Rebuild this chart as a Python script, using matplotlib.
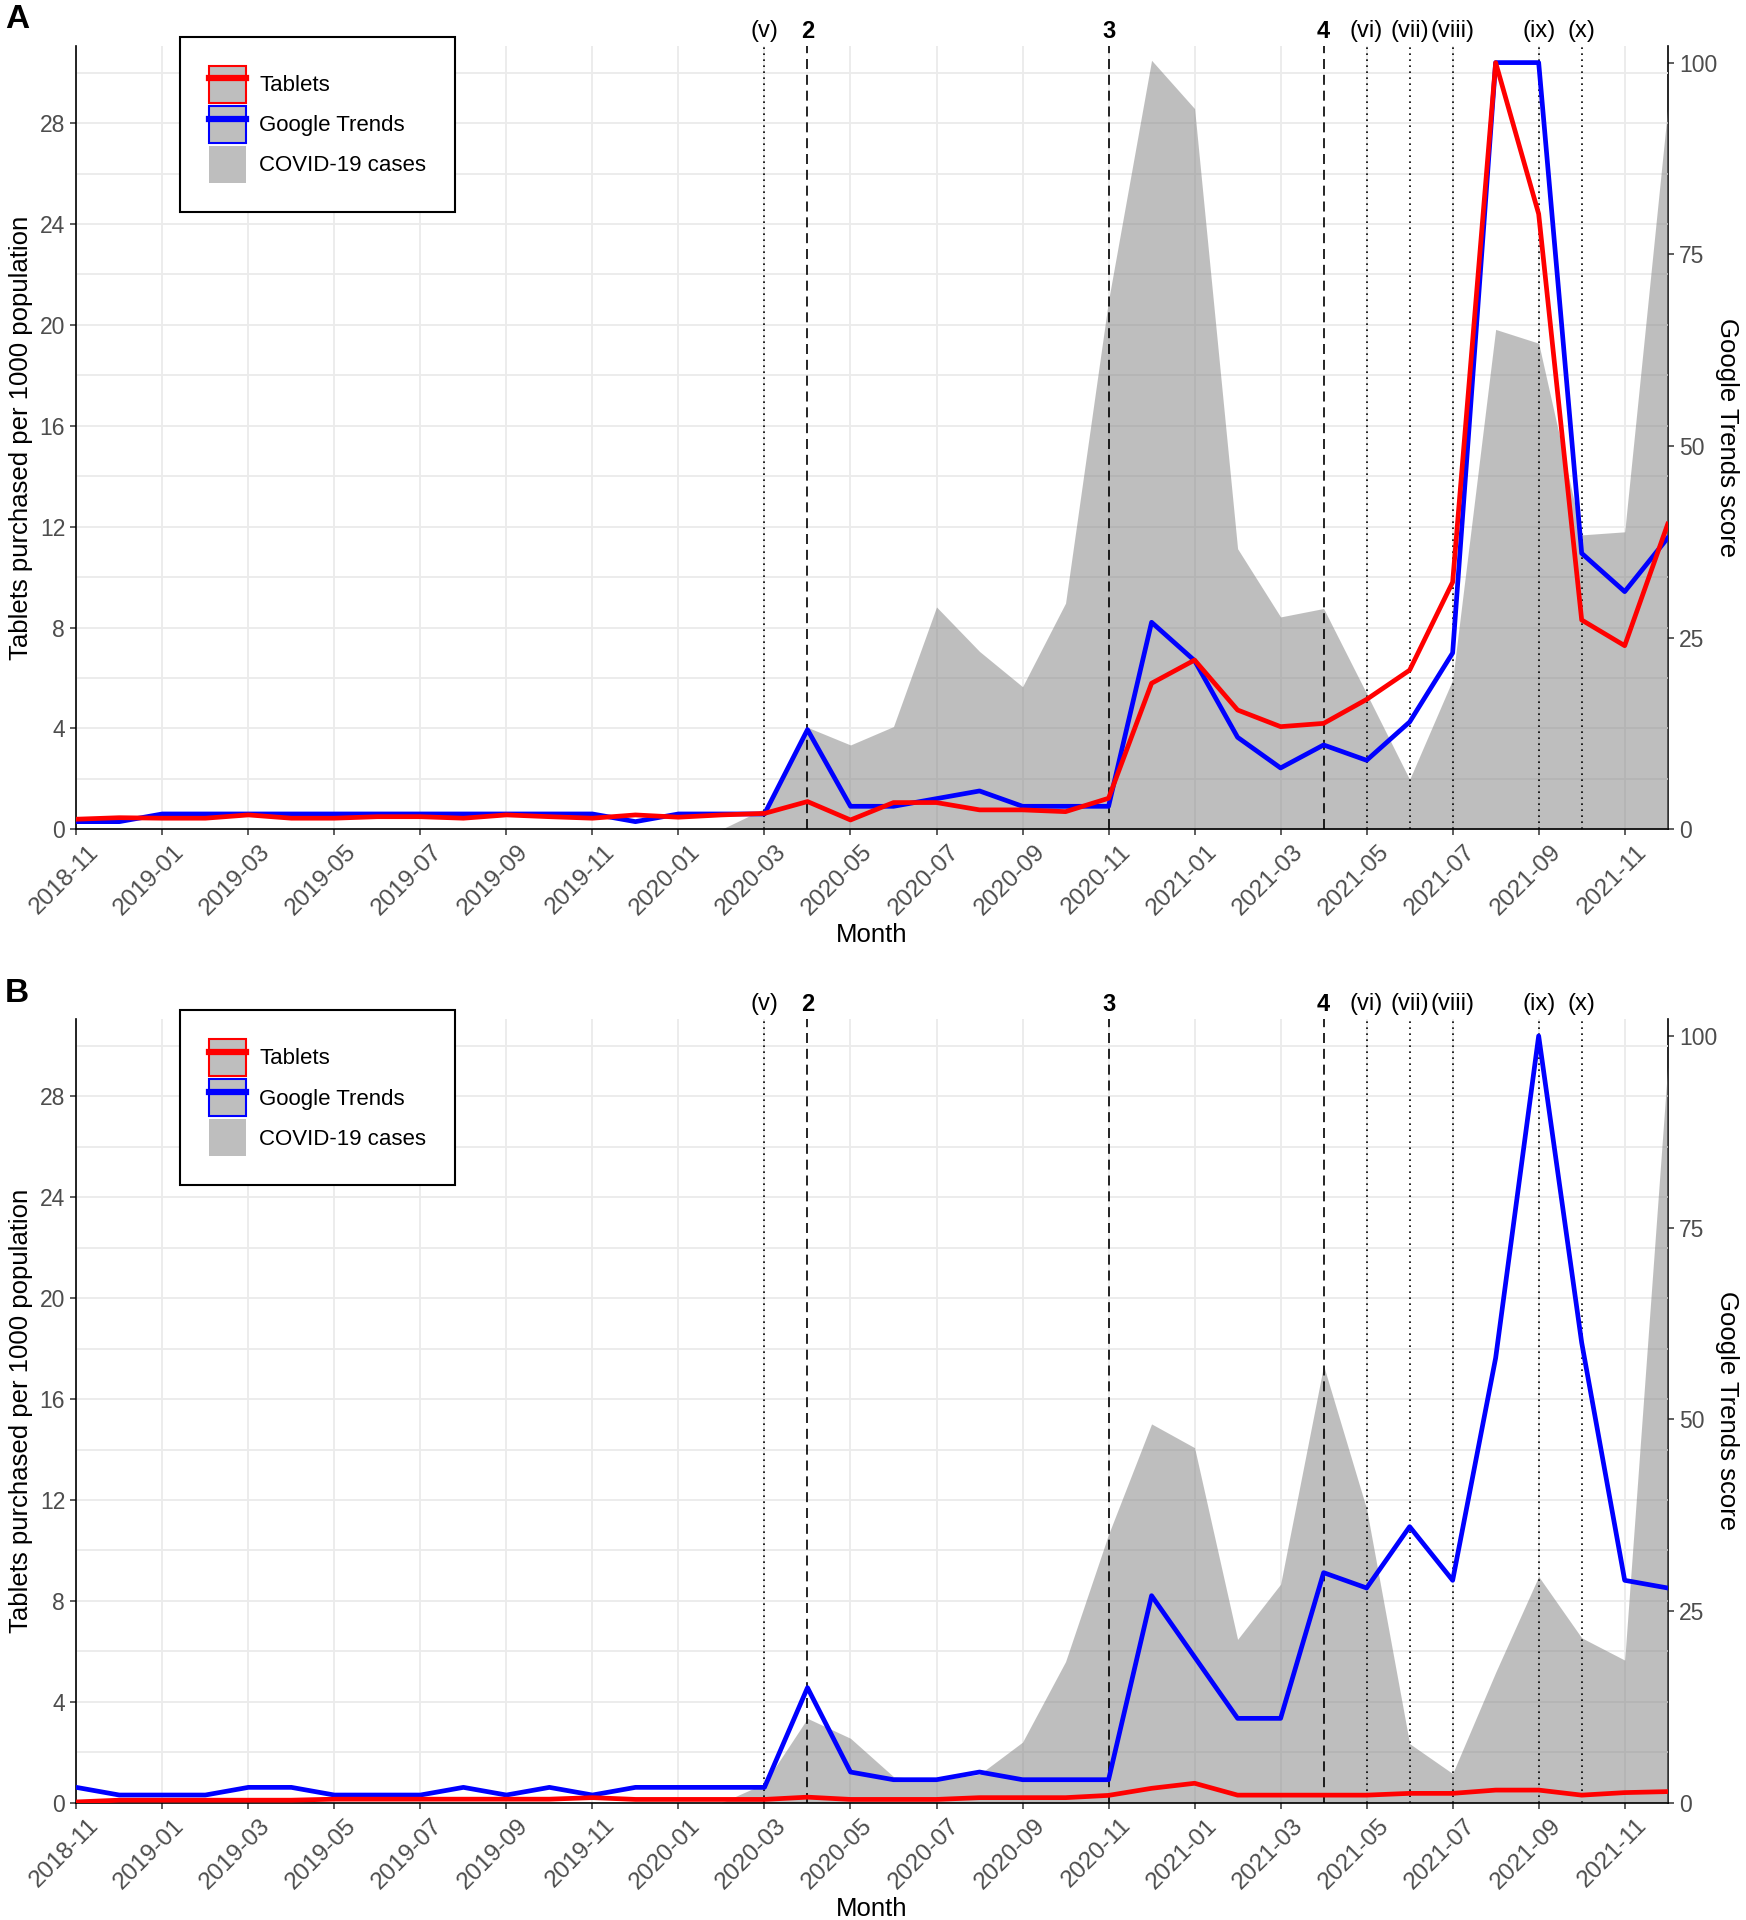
import matplotlib
matplotlib.use('Agg')
import matplotlib.pyplot as plt
import numpy as np
from matplotlib.patches import Patch
from matplotlib.lines import Line2D
from matplotlib.legend_handler import HandlerTuple
from matplotlib.transforms import ScaledTranslation

plt.rcParams['font.family'] = ['Liberation Sans', 'DejaVu Sans']

# ---------------- data ----------------
months = ['2018-11', '2018-12', '2019-01', '2019-02', '2019-03', '2019-04', '2019-05',
          '2019-06', '2019-07', '2019-08', '2019-09', '2019-10', '2019-11', '2019-12',
          '2020-01', '2020-02', '2020-03', '2020-04', '2020-05', '2020-06', '2020-07',
          '2020-08', '2020-09', '2020-10', '2020-11', '2020-12', '2021-01', '2021-02',
          '2021-03', '2021-04', '2021-05', '2021-06', '2021-07', '2021-08', '2021-09',
          '2021-10', '2021-11', '2021-12']

# Panel A
tablets_A = [0.40, 0.46, 0.44, 0.44, 0.57, 0.44, 0.44, 0.50, 0.50, 0.44, 0.57, 0.50, 0.44,
             0.57, 0.48, 0.57, 0.63, 1.10, 0.37, 1.06, 1.06, 0.77, 0.77, 0.70, 1.23, 5.79,
             6.71, 4.73, 4.07, 4.20, 5.15, 6.31, 9.80, 30.40, 24.40, 8.30, 7.28, 12.10]
google_A = [1, 1, 2, 2, 2, 2, 2, 2, 2, 2, 2, 2, 2, 1, 2, 2, 2, 13, 3, 3, 4, 5, 3, 3, 3,
            27, 22, 12, 8, 11, 9, 14, 23, 100, 100, 36, 31, 38]
covid_A = [0, 0, 0, 0, 0, 0, 0, 0, 0, 0, 0, 0, 0, 0, 0, 0, 2.7, 13.3, 11.0, 13.4, 29.0,
           23.2, 18.6, 29.5, 69.0, 100.3, 94.0, 36.6, 27.7, 28.8, 17.7, 6.5, 19.5, 65.2,
           63.4, 38.4, 38.8, 94.0]

# Panel B
tablets_B = [0.03, 0.10, 0.10, 0.10, 0.10, 0.10, 0.14, 0.14, 0.14, 0.14, 0.14, 0.14, 0.20,
             0.13, 0.13, 0.13, 0.13, 0.22, 0.13, 0.13, 0.13, 0.20, 0.20, 0.20, 0.29, 0.57,
             0.77, 0.30, 0.30, 0.30, 0.30, 0.37, 0.37, 0.50, 0.50, 0.30, 0.40, 0.44]
google_B = [2, 1, 1, 1, 2, 2, 1, 1, 1, 2, 1, 2, 1, 2, 2, 2, 2, 15, 4, 3, 3, 4, 3, 3, 3,
            27, 19, 11, 11, 30, 28, 36, 29, 58, 100, 60, 29, 28]
covid_B = [0, 0, 0, 0, 0, 0, 0, 0, 0, 0, 0, 0, 0, 0, 0, 0, 2.5, 11.0, 8.4, 3.4, 2.9,
           3.7, 7.9, 18.4, 35.0, 49.4, 46.3, 21.3, 28.5, 57.0, 38.3, 7.7, 3.8, 17.0,
           29.5, 21.5, 18.6, 96.0]

# Events (month, label, style)
event_months = ['2020-03', '2020-04', '2020-11', '2021-04', '2021-05', '2021-06',
                '2021-07', '2021-09', '2021-10']
event_labels = ['(v)', '2', '3', '4', '(vi)', '(vii)', '(viii)', '(ix)', '(x)']
event_dashed = [False, True, True, True, False, False, False, False, False]

GT_SCALE = 30.4 / 100.0   # left-axis units per Google Trends point
Y_TOP = 31.07

# ---------------- layout ----------------
W, H = 1746, 1920
fig = plt.figure(figsize=(W / 100, H / 100), dpi=100)

GRID = '#ebebeb'
GRAY_TXT = '#4d4d4d'


def fx(px):
    return px / W


def fy(py):
    return 1 - py / H


def draw_panel(ax_rect, tablets, google, covid, letter, top_px, bottom_px):
    ax = fig.add_axes(ax_rect)
    x = np.arange(len(months))
    tab = np.array(tablets)
    gt = np.array(google) * GT_SCALE
    cv = np.array(covid) * GT_SCALE

    ax.fill_between(x, 0, cv, color='#7f7f7f', alpha=0.5, lw=0, zorder=1)
    for m, lab, dashed in zip(event_months, event_labels, event_dashed):
        xi = months.index(m)
        ax.axvline(xi, color='black', lw=1.2,
                   ls=(0, (6, 3.5)) if dashed else (0, (1, 2.6)), zorder=2)
        ax.annotate(lab, xy=(xi, 1), xycoords=('data', 'axes fraction'),
                    xytext=(0, 10.5), textcoords='offset points', ha='center',
                    va='center', fontsize=17,
                    fontweight='bold' if dashed else 'normal', color='black')
    ax.plot(x, gt, color='#0000ff', lw=3.4, zorder=3, solid_joinstyle='round')
    ax.plot(x, tab, color='#ff0000', lw=3.4, zorder=4, solid_joinstyle='round')

    ax.set_xlim(0, len(months) - 1)
    ax.set_ylim(0, Y_TOP)
    ax.set_xticks(x[::2])
    ax.set_yticks(np.arange(0, 29, 4))
    ax.set_yticks(np.arange(2, 31, 4), minor=True)
    ax.tick_params(axis='y', which='major', labelsize=16.5, labelcolor=GRAY_TXT,
                   length=4, width=1.1, color='#333333', pad=4)
    ax.tick_params(axis='x', which='major', length=4, width=1.1, color='#333333', pad=4.5)
    ax.tick_params(which='minor', length=0)
    ax.set_xticklabels(months[::2], rotation=45, ha='right', va='top',
                       rotation_mode='anchor', fontsize=17.5, color=GRAY_TXT)
    shift = ScaledTranslation(11 / 100, 0, fig.dpi_scale_trans)
    for lbl in ax.get_xticklabels():
        lbl.set_transform(lbl.get_transform() + shift)
    ax.set_axisbelow(True)
    ax.grid(True, axis='y', which='both', color=GRID, lw=1.3)
    ax.grid(True, axis='x', which='major', color=GRID, lw=1.3)
    for s in ['top', 'right']:
        ax.spines[s].set_visible(False)
    for s in ['left', 'bottom']:
        ax.spines[s].set_linewidth(1.2)
        ax.spines[s].set_color('black')

    sec = ax.secondary_yaxis('right', functions=(lambda y: y / GT_SCALE,
                                                  lambda y: y * GT_SCALE))
    sec.set_yticks([0, 25, 50, 75, 100])
    sec.tick_params(labelsize=16.5, labelcolor=GRAY_TXT, length=4, width=1.1,
                    color='#333333', pad=4)
    sec.spines['right'].set_linewidth(1.2)

    mid = (top_px + bottom_px) / 2
    fig.text(fx(21), fy(mid), 'Tablets purchased per 1000 population', rotation=90,
             ha='center', va='center', fontsize=18.5)
    fig.text(fx(1727), fy(mid), 'Google Trends score', rotation=-90,
             ha='center', va='center', fontsize=18.5)
    fig.text(fx(872), fy(bottom_px + 106), 'Month', ha='center', va='center',
             fontsize=18.5)
    fig.text(fx(17), fy(top_px - 26), letter, ha='center', va='center',
             fontsize=24, fontweight='bold')

    handles = [
        (Patch(facecolor='#bebebe', edgecolor='#ff0000', lw=1.5),
         Line2D([], [], color='#ff0000', lw=4.5)),
        (Patch(facecolor='#bebebe', edgecolor='#0000ff', lw=1.5),
         Line2D([], [], color='#0000ff', lw=4.5)),
        Patch(facecolor='#bebebe', edgecolor='none'),
    ]
    leg = fig.legend(handles, ['Tablets', 'Google Trends', 'COVID-19 cases'],
                     loc='upper left', bbox_to_anchor=(fx(180), fy(top_px - 9)),
                     bbox_transform=fig.transFigure, borderaxespad=0,
                     frameon=True, fancybox=False, edgecolor='black', framealpha=1,
                     fontsize=16, handlelength=1.67, handleheight=2.19,
                     labelspacing=0.14, borderpad=1.3, handletextpad=0.6,
                     handler_map={tuple: HandlerTuple(ndivide=1)})
    leg.get_frame().set_linewidth(1.5)
    return ax


draw_panel([fx(76.3), fy(829.3), (1667.7 - 76.3) / W, 783.6 / H],
           tablets_A, google_A, covid_A, 'A', 45.7, 829.3)
draw_panel([fx(76.3), fy(1802.7), (1667.7 - 76.3) / W, 783.7 / H],
           tablets_B, google_B, covid_B, 'B', 1019.0, 1802.7)

fig.savefig('out.png', dpi=100)
